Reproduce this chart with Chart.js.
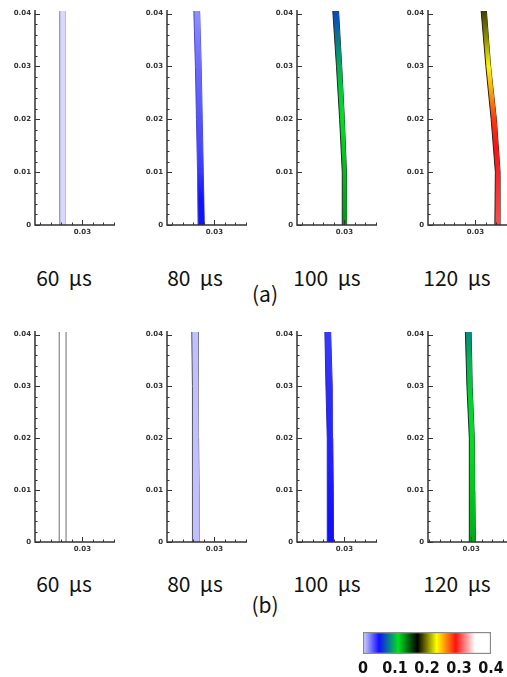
<!DOCTYPE html>
<html lang="en">
  <head>
    <meta charset="UTF-8" />
    <meta name="viewport" content="width=device-width, initial-scale=1.0" />
    <script src="https://cdn.jsdelivr.net/npm/chart.js"></script>
    <title>Bar deflection snapshots</title>
    <style>
      html,
      body {
        margin: 0;
        padding: 0;
        background: #fff;
        overflow: hidden;
      }
      #figure {
        position: relative;
        width: 507px;
        height: 677px;
      }
      #figure canvas {
        position: absolute;
      }
      .label {
        position: absolute;
        transform: translate(-50%, -50%);
        font-family: "Noto Sans CJK KR", "DejaVu Sans", sans-serif;
        font-size: 21px;
        line-height: 1;
        color: #111;
        white-space: pre;
      }
    </style>
  </head>

  <body>
    <div id="figure"></div>
  </body>
</html>
<script>
  // ---- values ----
  const yLevels = [0, 0.01, 0.02, 0.03, 0.0405]; // heights where the bar edges were read
  const colourLevels = [0, 0.005, 0.01, 0.015, 0.02, 0.025, 0.03, 0.035, 0.0405];
  const yTicks = [0, 0.01, 0.02, 0.03, 0.04];
  const xTicks = [0.03];
  const barTicks = [0, 0.1, 0.2, 0.3, 0.4];
  const times = ["60", "80", "100", "120"];
  const rowNames = ["(a)", "(b)"];

  // contour legend
  const colourStops = [0, 0.05, 0.11, 0.17, 0.23, 0.29, 0.35, 0.4];
  const colourHex = ["#d8d8ff", "#1010ff", "#00e020", "#000000", "#ffff00", "#ff1010", "#ffffff", "#ffffff"];

  // row (a): left / right edge of the bar, contour value along it
  const leftA60 = [0.0257, 0.0257, 0.0257, 0.0257, 0.0257];
  const rightA60 = [0.0267, 0.0267, 0.0267, 0.0267, 0.0267];
  const valueA60 = [0, 0, 0, 0, 0, 0, 0, 0, 0];
  const leftA80 = [0.0269, 0.0268, 0.0266, 0.0264, 0.0261];
  const rightA80 = [0.0281, 0.0279, 0.0277, 0.0275, 0.0272];
  const valueA80 = [0.052, 0.05, 0.04, 0.036, 0.033, 0.03, 0.027, 0.023, 0.018];
  const leftA100 = [0.0296, 0.0296, 0.0291, 0.0285, 0.0278];
  const rightA100 = [0.0305, 0.0304, 0.03, 0.0295, 0.0289];
  const valueA100 = [0.13, 0.125, 0.12, 0.115, 0.11, 0.105, 0.095, 0.08, 0.065];
  const leftA120 = [0.0337, 0.0338, 0.033, 0.032, 0.0311];
  const rightA120 = [0.0347, 0.0347, 0.034, 0.0329, 0.0321];
  const valueA120 = [0.305, 0.3, 0.295, 0.29, 0.28, 0.255, 0.232, 0.205, 0.185];

  // row (b)
  const leftB60 = [0.0256, 0.0256, 0.0256, 0.0256, 0.0256];
  const rightB60 = [0.0269, 0.0269, 0.0269, 0.0269, 0.0269];
  const valueB60 = null; // outline only, no contour
  const leftB80 = [0.0259, 0.0259, 0.0258, 0.0258, 0.0257];
  const rightB80 = [0.0271, 0.0271, 0.027, 0.027, 0.0269];
  const valueB80 = [0.006, 0.006, 0.006, 0.006, 0.006, 0.006, 0.006, 0.006, 0.006];
  const leftB100 = [0.0268, 0.0268, 0.0267, 0.0265, 0.0263];
  const rightB100 = [0.028, 0.0279, 0.0278, 0.0277, 0.0274];
  const valueB100 = [0.05, 0.05, 0.048, 0.046, 0.045, 0.044, 0.043, 0.041, 0.04];
  const leftB120 = [0.0297, 0.0297, 0.0296, 0.0292, 0.0289];
  const rightB120 = [0.0308, 0.0307, 0.0306, 0.0302, 0.03];
  const valueB120 = [0.125, 0.12, 0.117, 0.113, 0.11, 0.108, 0.104, 0.097, 0.085];

  // ---- layout (pixels) ----
  const columnLeft = [35, 167, 297, 428];
  const rowTop = [11, 332];
  const rowHeight = [214, 210];
  const labelX = [64, 195, 327, 457];
  const labelY = [277, 583];
  const captionY = [293, 604];
  const plotWidth = 80;
  const yAxisWidth = 34;
  const xAxisHeight = 14;
  const padTop = 4;
  const padRight = 4;
  const xSpan = 0.0152;
  const yMax = 0.0405;

  const panels = [
    { row: 0, col: 0, left: leftA60, right: rightA60, values: valueA60, xMin: 0.021, edge: "#80809a" },
    { row: 0, col: 1, left: leftA80, right: rightA80, values: valueA80, xMin: 0.021, edge: "#4a4ac8" },
    { row: 0, col: 2, left: leftA100, right: rightA100, values: valueA100, xMin: 0.021, edge: "#1c2c24" },
    { row: 0, col: 3, left: leftA120, right: rightA120, values: valueA120, xMin: 0.021, edge: "#2c2014" },
    { row: 1, col: 0, left: leftB60, right: rightB60, values: valueB60, xMin: 0.021, edge: "#6e6e6e" },
    { row: 1, col: 1, left: leftB80, right: rightB80, values: valueB80, xMin: 0.021, edge: "#555566" },
    { row: 1, col: 2, left: leftB100, right: rightB100, values: valueB100, xMin: 0.021, edge: "#2a2ab0" },
    { row: 1, col: 3, left: leftB120, right: rightB120, values: valueB120, xMin: 0.0218, edge: "#12302a" },
  ];

  const figure = document.getElementById("figure");
  const tickFont = { family: "DejaVu Sans", size: 7, weight: "bold" };

  function hexToRgb(hex) {
    return [1, 3, 5].map((i) => parseInt(hex.slice(i, i + 2), 16));
  }

  // colour of a contour value in the legend's colour map
  function colourAt(v) {
    if (v <= colourStops[0]) return colourHex[0];
    for (let i = 0; i < colourStops.length - 1; i++) {
      if (v <= colourStops[i + 1]) {
        const t = (v - colourStops[i]) / (colourStops[i + 1] - colourStops[i]);
        const a = hexToRgb(colourHex[i]);
        const b = hexToRgb(colourHex[i + 1]);
        const c = a.map((ca, k) => Math.round(ca + (b[k] - ca) * t));
        return `rgb(${c[0]},${c[1]},${c[2]})`;
      }
    }
    return colourHex[colourHex.length - 1];
  }

  function stripGradient(chart, values) {
    if (!values) return "rgba(0,0,0,0)";
    if (!chart.chartArea) return colourAt(values[0]);
    const y = chart.scales.y;
    const y0 = y.getPixelForValue(0);
    const y1 = y.getPixelForValue(yMax);
    const g = chart.ctx.createLinearGradient(0, y0, 0, y1);
    colourLevels.forEach((lv, k) => g.addColorStop(lv / yMax, colourAt(values[k])));
    return g;
  }

  function zeroPadding(scale) {
    scale.paddingTop = 0;
    scale.paddingBottom = 0;
    scale.paddingLeft = 0;
    scale.paddingRight = 0;
  }

  // Tecplot-like frame: axis lines plus inward ticks, minor ticks between the majors
  const inwardTicks = {
    id: "inwardTicks",
    afterDraw(chart) {
      const { ctx, chartArea, scales } = chart;
      const step = 0.002;
      ctx.save();
      ctx.strokeStyle = "#333";
      ctx.lineWidth = 1.5;
      ctx.beginPath();
      ctx.moveTo(chartArea.left, chartArea.top - 1);
      ctx.lineTo(chartArea.left, chartArea.bottom);
      ctx.lineTo(chartArea.right, chartArea.bottom);
      ctx.stroke();

      ctx.lineWidth = 1;
      ctx.beginPath();
      for (let k = 0; k * step <= scales.y.max + 1e-9; k++) {
        const py = Math.round(scales.y.getPixelForValue(k * step)) + 0.5;
        const len = k % 5 === 0 ? 5 : 2.5;
        ctx.moveTo(chartArea.left, py);
        ctx.lineTo(chartArea.left + len, py);
      }
      const kStart = Math.ceil(scales.x.min / step - 1e-9);
      const kEnd = Math.floor(scales.x.max / step + 1e-9);
      for (let k = kStart; k <= kEnd; k++) {
        const px = Math.round(scales.x.getPixelForValue(k * step)) + 0.5;
        const len = k % 5 === 0 ? 5 : 2.5;
        ctx.moveTo(px, chartArea.bottom);
        ctx.lineTo(px, chartArea.bottom - len);
      }
      ctx.stroke();
      ctx.restore();
    },
  };

  panels.forEach((p) => {
    const canvas = document.createElement("canvas");
    canvas.width = yAxisWidth + plotWidth + padRight;
    canvas.height = padTop + rowHeight[p.row] + xAxisHeight;
    canvas.style.left = columnLeft[p.col] - yAxisWidth + "px";
    canvas.style.top = rowTop[p.row] - padTop + "px";
    figure.appendChild(canvas);

    new Chart(canvas, {
      type: "line",
      data: {
        datasets: [
          {
            data: yLevels.map((y, k) => ({ x: p.left[k], y: y })),
            borderColor: p.edge,
            borderWidth: 1,
            pointRadius: 0,
            fill: p.values ? "+1" : false,
            backgroundColor: (c) => stripGradient(c.chart, p.values),
          },
          {
            data: yLevels.map((y, k) => ({ x: p.right[k], y: y })),
            borderColor: p.edge,
            borderWidth: 1,
            pointRadius: 0,
            fill: false,
          },
        ],
      },
      options: {
        responsive: false,
        animation: false,
        events: [],
        indexAxis: "y",
        layout: { padding: { top: padTop, right: padRight, left: 0, bottom: 0 } },
        plugins: { legend: { display: false }, tooltip: { enabled: false } },
        scales: {
          x: {
            type: "linear",
            min: p.xMin,
            max: p.xMin + xSpan,
            grid: { display: false, drawTicks: false },
            border: { display: false },
            afterBuildTicks: (s) => {
              s.ticks = xTicks.map((v) => ({ value: v }));
            },
            afterFit: (s) => {
              s.height = xAxisHeight;
              zeroPadding(s);
            },
            ticks: {
              font: tickFont,
              color: "#333",
              padding: 3,
              maxRotation: 0,
              callback: (v) => v.toFixed(2),
            },
          },
          y: {
            type: "linear",
            min: 0,
            max: yMax,
            grid: { display: false, drawTicks: false },
            border: { display: false },
            afterBuildTicks: (s) => {
              s.ticks = yTicks.map((v) => ({ value: v }));
            },
            afterFit: (s) => {
              s.width = yAxisWidth;
              zeroPadding(s);
            },
            ticks: {
              font: tickFont,
              color: "#333",
              padding: 4,
              autoSkip: false,
              callback: (v) => (v === 0 ? "0" : v.toFixed(2)),
            },
          },
        },
      },
      plugins: [inwardTicks],
    });
  });

  // time labels and row captions
  rowNames.forEach((name, row) => {
    times.forEach((t, col) => {
      const el = document.createElement("div");
      el.className = "label";
      el.textContent = `${t}  \u03bcs`;
      el.style.left = labelX[col] + "px";
      el.style.top = labelY[row] + "px";
      figure.appendChild(el);
    });
    const cap = document.createElement("div");
    cap.className = "label";
    cap.textContent = name;
    cap.style.left = "265px";
    cap.style.top = captionY[row] + "px";
    figure.appendChild(cap);
  });

  // colour legend, drawn as one floating bar on a 0..0.4 axis
  const legendCanvas = document.createElement("canvas");
  legendCanvas.width = 164;
  legendCanvas.height = 47;
  legendCanvas.style.left = "343px";
  legendCanvas.style.top = "630px";
  figure.appendChild(legendCanvas);

  new Chart(legendCanvas, {
    type: "bar",
    data: {
      labels: ["legend"],
      datasets: [
        {
          data: [[barTicks[0], barTicks[barTicks.length - 1]]],
          backgroundColor: (c) => {
            const chart = c.chart;
            if (!chart.chartArea) return colourHex[0];
            const xs = chart.scales.x;
            const g = chart.ctx.createLinearGradient(xs.getPixelForValue(xs.min), 0, xs.getPixelForValue(xs.max), 0);
            colourStops.forEach((s, k) => g.addColorStop(s / xs.max, colourHex[k]));
            return g;
          },
          borderColor: "#8a8a8a",
          borderWidth: 1.5,
          borderSkipped: false,
          barPercentage: 1,
          categoryPercentage: 1,
        },
      ],
    },
    options: {
      responsive: false,
      animation: false,
      events: [],
      indexAxis: "y",
      layout: { padding: { top: 2, right: 16, left: 20, bottom: 0 } },
      plugins: { legend: { display: false }, tooltip: { enabled: false } },
      scales: {
        x: {
          type: "linear",
          min: barTicks[0],
          max: barTicks[barTicks.length - 1],
          grid: { display: false, drawTicks: false },
          border: { display: false },
          afterBuildTicks: (s) => {
            s.ticks = barTicks.map((v) => ({ value: v }));
          },
          afterFit: (s) => {
            s.height = 23;
            zeroPadding(s);
          },
          ticks: {
            font: { family: "'Liberation Sans Narrow', 'DejaVu Sans Condensed', 'Liberation Sans'", size: 16, weight: "bold" },
            color: "#111",
            padding: 5,
            maxRotation: 0,
            autoSkip: false,
            callback: (v) => (v === 0 ? "0" : v.toFixed(1)),
          },
        },
        y: { display: false },
      },
    },
  });
</script>
